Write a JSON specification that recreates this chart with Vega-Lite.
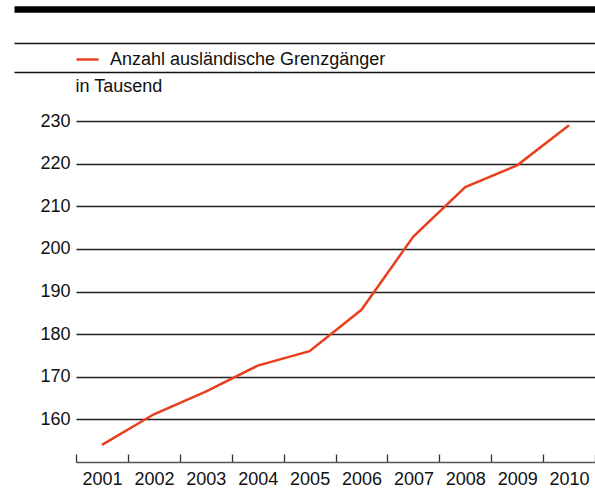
{
  "$schema": "https://vega.github.io/schema/vega-lite/v6.json",
  "width": 581,
  "height": 341,
  "autosize": {"type": "none"},
  "padding": {"left": 14, "top": 121, "right": 0, "bottom": 27},
  "background": "white",
  "config": {
    "view": {"stroke": null},
    "font": "Liberation Sans",
    "axis": {"labelFont": "Liberation Sans", "titleFont": "Liberation Sans", "labelColor": "#111", "titleColor": "#111"},
    "legend": {"labelFont": "Liberation Sans"}
  },
  "data": {
    "values": [
      {"year": 2001, "value": 154.0},
      {"year": 2002, "value": 161.2},
      {"year": 2003, "value": 166.5},
      {"year": 2004, "value": 172.6},
      {"year": 2005, "value": 176.0},
      {"year": 2006, "value": 185.7},
      {"year": 2007, "value": 202.9},
      {"year": 2008, "value": 214.5},
      {"year": 2009, "value": 219.6},
      {"year": 2010, "value": 229.0}
    ]
  },
  "encoding": {
    "y": {
      "field": "value",
      "type": "quantitative",
      "scale": {"domain": [150, 230], "nice": false, "zero": false},
      "axis": {
        "orient": "left",
        "offset": -62,
        "values": [150, 160, 170, 180, 190, 200, 210, 220, 230],
        "domain": false,
        "grid": false,
        "ticks": true,
        "tickSize": -519,
        "tickWidth": 1.3,
        "tickColor": {"condition": {"test": "datum.value === 150", "value": "#555"}, "value": "#222"},
        "labelExpr": "datum.value === 150 ? '' : datum.label",
        "labelPadding": 525,
        "labelFontSize": 18,
        "labelBaseline": "middle",
        "title": "in Tausend",
        "titleAngle": 0,
        "titleAlign": "left",
        "titleBaseline": "alphabetic",
        "titleX": -1,
        "titleY": -30,
        "titleFontSize": 18,
        "titleFontWeight": "normal"
      }
    }
  },
  "layer": [
    {
      "mark": {"type": "line", "strokeWidth": 2.5},
      "encoding": {
        "x": {
          "field": "year",
          "type": "quantitative",
          "scale": {"domain": [1999.305, 2010.5], "nice": false, "zero": false},
          "axis": {
            "orient": "bottom",
            "values": [2000.5, 2001.5, 2002.5, 2003.5, 2004.5, 2005.5, 2006.5, 2007.5, 2008.5, 2009.5, 2010.5],
            "domain": false,
            "grid": false,
            "ticks": true,
            "tickSize": -8,
            "tickWidth": 1.3,
            "tickColor": "#333",
            "labelOffset": 26,
            "labelExpr": "datum.value > 2010 ? '' : format(datum.value + 0.5, 'd')",
            "labelPadding": 16,
            "labelFontSize": 18,
            "labelFlush": false,
            "labelOverlap": false,
            "title": null
          }
        },
        "color": {
          "datum": "Anzahl ausländische Grenzgänger",
          "scale": {"range": ["#e8401f"]},
          "legend": {
            "title": null,
            "orient": "none",
            "legendX": 61,
            "legendY": -74,
            "padding": 0,
            "symbolType": "stroke",
            "symbolSize": 484,
            "symbolStrokeWidth": 2.5,
            "labelFontSize": 18,
            "labelColor": "#111",
            "labelOffset": 10,
            "labelLimit": 0
          }
        }
      }
    },
    {
      "mark": {"type": "line", "opacity": 0},
      "encoding": {
        "x": {
          "field": "year",
          "type": "quantitative",
          "scale": {"domain": [1999.305, 2010.5], "nice": false, "zero": false},
          "axis": {"orient": "top", "offset": 49, "domain": true, "domainColor": "#111", "domainWidth": 1.3, "ticks": false, "labels": false, "grid": false, "title": null}
        }
      }
    },
    {
      "mark": {"type": "line", "opacity": 0},
      "encoding": {
        "x": {
          "field": "year",
          "type": "quantitative",
          "scale": {"domain": [1999.305, 2010.5], "nice": false, "zero": false},
          "axis": {"orient": "top", "offset": 78, "domain": true, "domainColor": "#111", "domainWidth": 1.3, "ticks": false, "labels": false, "grid": false, "title": null}
        }
      }
    },
    {
      "mark": {"type": "line", "opacity": 0},
      "encoding": {
        "x": {
          "field": "year",
          "type": "quantitative",
          "scale": {"domain": [1999.305, 2010.5], "nice": false, "zero": false},
          "axis": {"orient": "top", "offset": 112, "domain": true, "domainColor": "#000", "domainWidth": 6.5, "ticks": false, "labels": false, "grid": false, "title": null}
        }
      }
    }
  ],
  "resolve": {"axis": {"x": "independent"}}
}
